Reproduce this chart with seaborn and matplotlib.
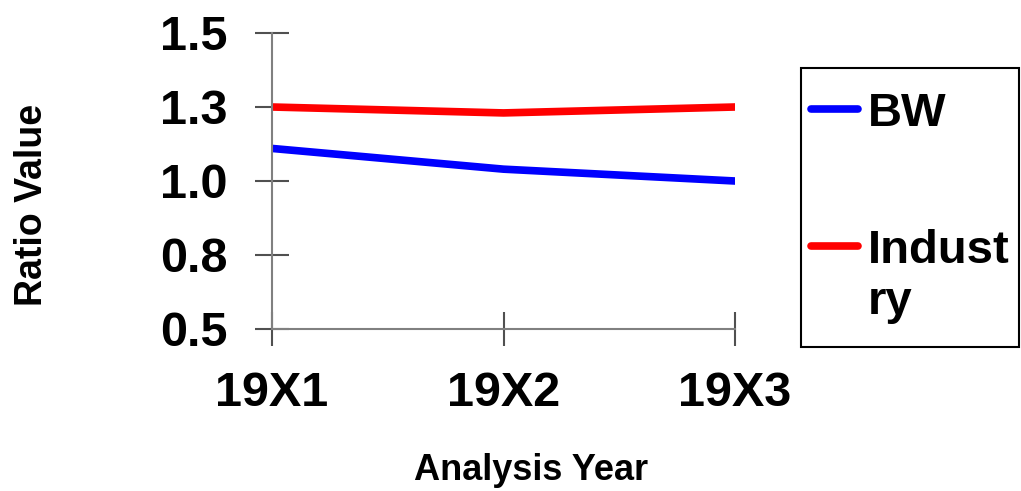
import numpy as np
import pandas as pd
import matplotlib
matplotlib.use("Agg")
import matplotlib.pyplot as plt
from matplotlib.patches import Rectangle
import seaborn as sns

# data
years = ["19X1", "19X2", "19X3"]
bw = [1.11, 1.04, 1.00]
industry = [1.25, 1.23, 1.25]
ytick_vals = [0.5, 0.75, 1.0, 1.25, 1.5]
ytick_labels = ["0.5", "0.8", "1.0", "1.3", "1.5"]
legend_labels = ["BW", "Indust\nry"]

sns.set_style("white")
plt.rcParams['font.family'] = ['Liberation Sans', 'DejaVu Sans']
plt.rcParams['font.weight'] = 'bold'
for key in ['text.color', 'axes.labelcolor', 'xtick.labelcolor', 'ytick.labelcolor']:
    plt.rcParams[key] = 'black'

df = pd.DataFrame({
    "x": list(range(len(years))) * 2,
    "value": bw + industry,
    "series": ["BW"] * len(years) + ["Industry"] * len(years),
})

W, H = 1021, 491
fig = plt.figure(figsize=(W / 100, H / 100), dpi=100)
ax = fig.add_axes([272/W, 1 - 329/H, (735 - 272)/W, (329 - 33)/H])

sns.lineplot(data=df, x="x", y="value", hue="series",
             palette={"BW": "#0000ff", "Industry": "#ff0000"},
             linewidth=5.5, ax=ax, legend=False)

ax.set_xlim(0, 2)
ax.set_ylim(0.5, 1.5)
ax.set_xticks(range(len(years)))
ax.set_xticklabels(years, fontsize=35, fontweight='bold')
ax.set_yticks(ytick_vals)
ax.set_yticklabels(ytick_labels, fontsize=35, fontweight='bold')
ax.tick_params(axis='both', direction='inout', length=24, width=1.5,
               color='#505050', bottom=True, left=True)
ax.tick_params(axis='y', pad=20)
ax.tick_params(axis='x', pad=18)

for side in ['top', 'right']:
    ax.spines[side].set_visible(False)
for side in ['left', 'bottom']:
    ax.spines[side].set_color('#808080')
    ax.spines[side].set_linewidth(1.5)

ax.set_xlabel("Analysis Year", fontsize=26, fontweight='bold')
ax.set_ylabel("Ratio Value", fontsize=27, fontweight='bold')
ax.xaxis.set_label_coords(0.56, -0.42)
ax.yaxis.set_label_coords(-0.48, 0.42)

# legend (frame drawn separately so its size matches the reference box)
leg = fig.legend(ax.get_lines()[:2], legend_labels,
                 loc='upper left', bbox_to_anchor=(801/W, 1 - 82/H),
                 prop={'weight': 'bold', 'size': 34},
                 handlelength=1.0, handletextpad=0.2, labelspacing=1.97,
                 borderaxespad=0, borderpad=0.21, frameon=False)
for line in leg.get_lines():
    line.set_linewidth(5.5)
    line.set_solid_capstyle('round')
# put the Industry handle level with the first line of its wrapped label
ind = leg.get_lines()[1]
ind.set_ydata(np.asarray(ind.get_ydata()) + 22.3)

fig.patches.append(Rectangle((801/W, 1 - 347/H), (1019 - 801)/W, (347 - 68)/H,
                             transform=fig.transFigure, fill=False,
                             edgecolor='black', linewidth=1.5))

fig.savefig("out.png", dpi=100)
